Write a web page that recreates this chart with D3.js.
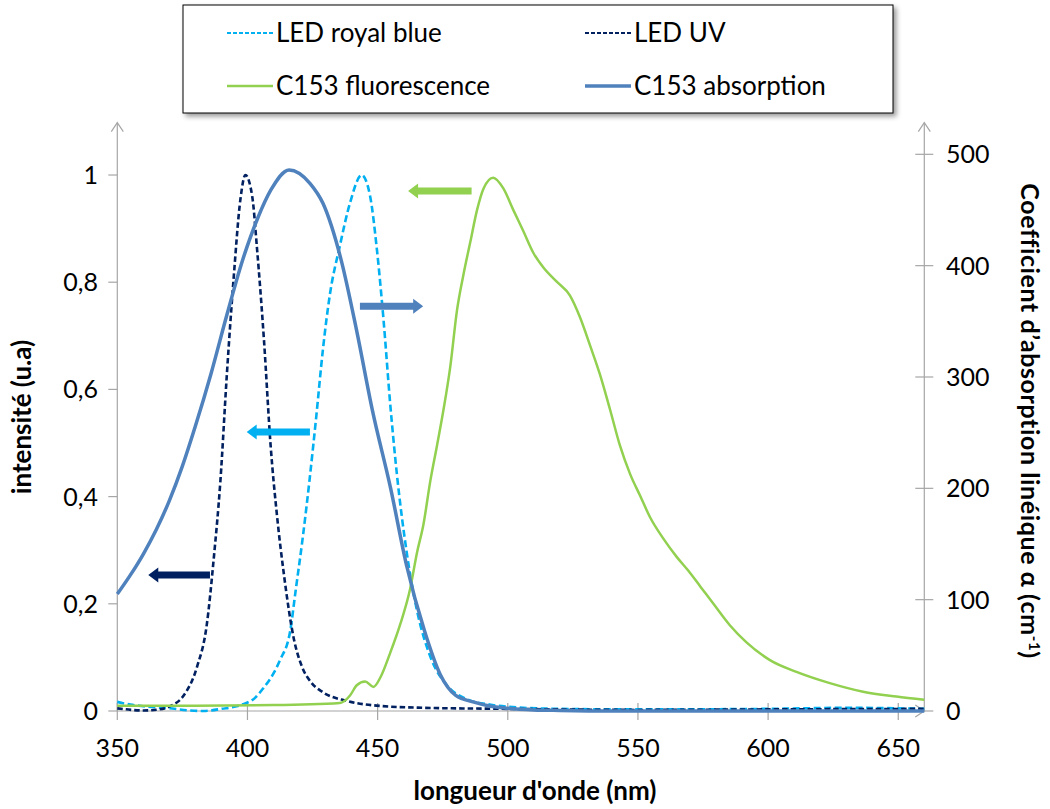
<!DOCTYPE html>
<html><head><meta charset="utf-8">
<script src="https://cdn.jsdelivr.net/npm/d3@7"></script>
<style>
html,body{margin:0;padding:0;background:#fff;}
svg text{font-family:Lato,"Open Sans",sans-serif;}
</style></head>
<body>
<svg id="c" width="1050" height="809"></svg>
<script>
// ---------- data ----------
const seriesNames = ["LED royal blue", "LED UV", "C153 fluorescence", "C153 absorption"];

const royalWl  = [350,355,360,370,378,383,390,398,403,406,410,412.5,416.4,418.6,421.2,423.8,426.4,429,431.6,435.5,439.4,443.9,447.1,449.7,452.3,454.8,457.4,461.2,465.1,470.2,476.6,484.3,493,500,520,550,600,630,660];
const royalVal = [0.017,0.012,0.009,0.005,0.001,0,0.004,0.012,0.025,0.042,0.07,0.095,0.149,0.228,0.322,0.429,0.548,0.675,0.775,0.868,0.948,1.0,0.961,0.862,0.728,0.575,0.442,0.295,0.188,0.102,0.048,0.022,0.012,0.008,0.004,0.003,0.004,0.006,0.004];

const uvWl  = [350,360,366,370.3,375.5,380.6,384.4,387,389.6,392.1,394.7,397.3,399.2,401.8,403.7,406.3,408.9,411.4,414,417.8,421,424.2,429,438,449.6,467.5,500,550,600,660];
const uvVal = [0.005,0.001,0.003,0.009,0.029,0.082,0.162,0.282,0.429,0.629,0.808,0.955,1.0,0.961,0.861,0.695,0.495,0.362,0.255,0.135,0.082,0.055,0.035,0.019,0.010,0.006,0.004,0.002,0.003,0.004];

const fluoWl  = [350,380,410,435.5,439.4,442,445.2,448.4,451,454.8,458.7,462.5,465.1,467.6,470.2,472.8,475.3,477.9,480.5,483,485.6,488.2,490.7,494.4,498.3,502.1,506,509.8,513.6,518.8,523.9,527.7,531.6,535.4,539.3,543.1,547,550.8,554.6,559.7,564.8,569.3,574,579,585.3,591.7,600.7,610.9,623.7,636.5,649.3,660];
const fluoVal = [0.010,0.010,0.011,0.015,0.029,0.048,0.055,0.045,0.062,0.108,0.162,0.228,0.295,0.348,0.428,0.495,0.562,0.642,0.748,0.815,0.875,0.935,0.975,0.995,0.975,0.935,0.895,0.855,0.828,0.801,0.775,0.735,0.682,0.628,0.562,0.495,0.442,0.402,0.362,0.322,0.288,0.262,0.232,0.200,0.160,0.128,0.095,0.073,0.052,0.036,0.027,0.021];

const absWl  = [350,355,360,365,370,375,380,386,392,398,404,409,416,424,429,436,442,448,455,461,468,474,480,487,493,500,510,520,540,560,600,660];
const absVal = [105,122,141,163,189,220,256,303,355,404,443,468,486,474,456,405,341,270,200,132,72,33,14,8,4.5,2.5,1,0.5,0,0,0,0];

const xTicks = [350,400,450,500,550,600,650];
const yLeftTicks = [0,0.2,0.4,0.6,0.8,1];
const yLeftLabels = ["0","0,2","0,4","0,6","0,8","1"];
const yRightTicks = [0,100,200,300,400,500];

// annotation arrows
const arrowFrom  = [486.1, 443.2, 424.0, 385.6];
const arrowTo    = [461.7, 467.5, 399.7, 361.9];
const arrowValue = [0.97, 0.755, 0.5205, 0.2537];
const arrowColor = ["#92D050", "#4F81BD", "#00B0F0", "#002060"];

// ---------- drawing ----------
const svg = d3.select("#c");
const x = d3.scaleLinear().domain([350, 660]).range([117.3, 924.3]);
const yL = d3.scaleLinear().domain([0, 1.0976]).range([711, 122.7]);
const yR = d3.scaleLinear().domain([0, 528.4]).range([711, 122.7]);
const axisCol = "#A6A6A6";
const tickFont = 25;

const g = svg.append("g");
g.append("line").attr("x1", x(350)).attr("x2", x(660)).attr("y1", yL(0)).attr("y2", yL(0)).attr("stroke", axisCol).attr("stroke-width", 1.2);
g.append("line").attr("x1", x(350)).attr("x2", x(350)).attr("y1", yL(0)).attr("y2", yL.range()[1]).attr("stroke", axisCol).attr("stroke-width", 1.2);
g.append("line").attr("x1", x(660)).attr("x2", x(660)).attr("y1", yL(0)).attr("y2", yL.range()[1]).attr("stroke", axisCol).attr("stroke-width", 1.2);
const topY = yL.range()[1];
[x(350), x(660)].forEach(xx => {
  g.append("path").attr("d", `M${xx-6},${topY+9}L${xx},${topY}L${xx+6},${topY+9}`).attr("fill", "none").attr("stroke", axisCol).attr("stroke-width", 1.2);
});
g.append("path").attr("d", `M${x(660)-9},${yL(0)-6}L${x(660)},${yL(0)}L${x(660)-9},${yL(0)+6}`).attr("fill", "none").attr("stroke", axisCol).attr("stroke-width", 1.2);

xTicks.forEach(t => {
  g.append("line").attr("x1", x(t)).attr("x2", x(t)).attr("y1", yL(0) - 8).attr("y2", yL(0) + 9).attr("stroke", axisCol).attr("stroke-width", 1.2);
  g.append("text").attr("x", x(t)).attr("y", 757).attr("text-anchor", "middle").attr("font-size", tickFont).attr("fill", "#000").text(t);
});
yLeftTicks.forEach((t, i) => {
  g.append("line").attr("x1", x(350) - 9).attr("x2", x(350)).attr("y1", yL(t)).attr("y2", yL(t)).attr("stroke", axisCol).attr("stroke-width", 1.2);
  g.append("text").attr("x", 98).attr("y", yL(t) + 9).attr("text-anchor", "end").attr("font-size", tickFont).attr("fill", "#000").text(yLeftLabels[i]);
});
yRightTicks.forEach(t => {
  g.append("line").attr("x1", x(660) - 9).attr("x2", x(660) + 9).attr("y1", yR(t)).attr("y2", yR(t)).attr("stroke", axisCol).attr("stroke-width", 1.2);
  g.append("text").attr("x", 946).attr("y", yR(t) + 9).attr("text-anchor", "start").attr("font-size", tickFont).attr("fill", "#000").text(t);
});

svg.append("text").attr("x", 535).attr("y", 800).attr("text-anchor", "middle").attr("font-size", 26).attr("font-weight", "bold").text("longueur d'onde (nm)");
svg.append("text").attr("transform", "translate(31,417) rotate(-90)").attr("text-anchor", "middle").attr("font-size", 26).attr("font-weight", "bold").text("intensité (u.a)");
const rt = svg.append("text").attr("transform", "translate(1021,421) rotate(90)").attr("text-anchor", "middle").attr("font-size", 25).attr("font-weight", "bold").attr("letter-spacing", 0.6);
rt.append("tspan").text("Coefficient d’absorption linéique  α (cm");
rt.append("tspan").attr("font-size", 15).attr("dy", -8).text("-1");
rt.append("tspan").attr("dy", 8).text(")");

const mk = (wl, val, ys) => wl.map((w, i) => [x(w), ys(val[i])]);
const line = d3.line().curve(d3.curveMonotoneX);
svg.append("path").attr("d", line(mk(royalWl, royalVal, yL))).attr("fill", "none").attr("stroke", "#00B0F0").attr("stroke-width", 2.6).attr("stroke-dasharray", "7,3.5");
svg.append("path").attr("d", line(mk(uvWl, uvVal, yL))).attr("fill", "none").attr("stroke", "#002060").attr("stroke-width", 2.6).attr("stroke-dasharray", "5.5,3");
svg.append("path").attr("d", line(mk(fluoWl, fluoVal, yL))).attr("fill", "none").attr("stroke", "#92D050").attr("stroke-width", 2.5);
svg.append("path").attr("d", line(mk(absWl, absVal, yR))).attr("fill", "none").attr("stroke", "#4F81BD").attr("stroke-width", 3.5);

arrowFrom.forEach((f, i) => {
  const x1 = x(f), x2 = x(arrowTo[i]), yy = yL(arrowValue[i]);
  const dir = Math.sign(x2 - x1);
  const hx = x2 - dir * 10;
  const p = `M${x1},${yy-3.5}L${hx},${yy-3.5}L${hx},${yy-7.5}L${x2},${yy}L${hx},${yy+7.5}L${hx},${yy+3.5}L${x1},${yy+3.5}Z`;
  svg.append("path").attr("d", p).attr("fill", arrowColor[i]);
});

const defs = svg.append("defs");
const flt = defs.append("filter").attr("id", "sh").attr("x", "-5%").attr("y", "-10%").attr("width", "115%").attr("height", "130%");
flt.append("feDropShadow").attr("dx", 3).attr("dy", 3).attr("stdDeviation", 2.5).attr("flood-color", "#000").attr("flood-opacity", 0.4);
svg.append("rect").attr("x", 183).attr("y", 5).attr("width", 710).attr("height", 108).attr("fill", "#fff").attr("stroke", "#000").attr("stroke-width", 1).attr("filter", "url(#sh)");
const legX = [227, 585, 227, 585];
const legY = [33, 33, 86, 86];
const legStyle = [
  {c: "#00B0F0", w: 2, d: "4,2"},
  {c: "#002060", w: 2, d: "4,2"},
  {c: "#92D050", w: 2.5, d: null},
  {c: "#4F81BD", w: 3.5, d: null}
];
seriesNames.forEach((n, i) => {
  const s = legStyle[i];
  const l = svg.append("line").attr("x1", legX[i]).attr("x2", legX[i] + 46).attr("y1", legY[i]).attr("y2", legY[i]).attr("stroke", s.c).attr("stroke-width", s.w);
  if (s.d) l.attr("stroke-dasharray", s.d);
  svg.append("text").attr("x", legX[i] + 49).attr("y", legY[i] + 9).attr("font-size", 26).attr("fill", "#000").text(n);
});
</script>
</body></html>
